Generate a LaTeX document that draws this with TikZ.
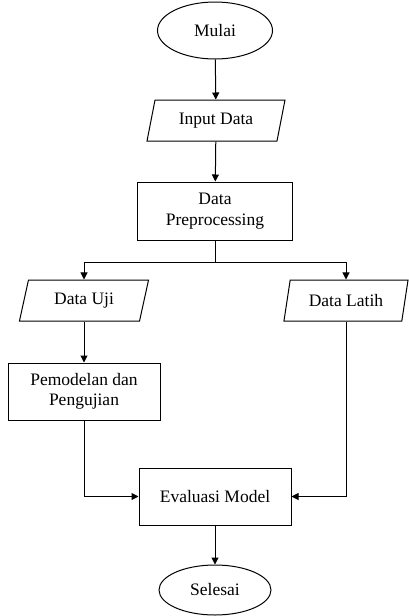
\documentclass[tikz,border=0pt]{standalone}
\usepackage{fontspec}
\setmainfont{Liberation Serif}
\usetikzlibrary{shapes.geometric,arrows.meta}

\tikzset{
  base/.style={draw=black, line width=1pt, font=\fontsize{17.5}{20.5}\selectfont, align=center, inner sep=2pt},
  terminal/.style={base, ellipse},
  io/.style={base, trapezium, trapezium left angle=75, trapezium right angle=105,
             trapezium stretches=true, minimum width=128pt, minimum height=41pt},
  process/.style={base, rectangle, minimum width=153pt, minimum height=57pt},
  arr/.style={draw=black, line width=1pt, -{Triangle[length=7pt,width=7pt]}},
  link/.style={draw=black, line width=1pt}
}

\begin{document}
\begin{tikzpicture}[x=1pt,y=-1pt]
  \useasboundingbox (0,0) rectangle (409,616);

  % main column
  \node[terminal, minimum width=115pt, minimum height=57pt] (mulai) at (215,30.5) {Mulai};
  \node[io, minimum width=139pt] (input) at (216,120.5) {Input Data};
  \node[process, minimum width=155pt, minimum height=58pt] (prep) at (215,211) {Data\\Preprocessing};

  % two branches
  \node[io, minimum width=130pt] (uji) at (84,300.5) {Data Uji};
  \node[io, minimum width=125pt] (latih) at (346,300.5) {Data Latih};
  \node[process, minimum width=152pt] (model) at (84,391.5) {Pemodelan dan\\Pengujian};

  % merge and end
  \node[process, minimum width=152pt] (eval) at (215,496.5) {Evaluasi Model};
  \node[terminal, minimum width=112pt, minimum height=50pt] (selesai) at (215,590) {Selesai};

  \coordinate (split) at (215,262);

  \draw[arr] (mulai) -- (input);
  \draw[arr] (input) -- (prep);
  \draw[link] (prep.south) -- (split);
  \draw[arr] (split) -| (uji.north);
  \draw[arr] (split) -| (latih.north);
  \draw[arr] (uji) -- (model);
  \draw[arr] (model.south) |- (eval.west);
  \draw[arr] (latih.south) |- (eval.east);
  \draw[arr] (eval) -- (selesai);
\end{tikzpicture}
\end{document}
